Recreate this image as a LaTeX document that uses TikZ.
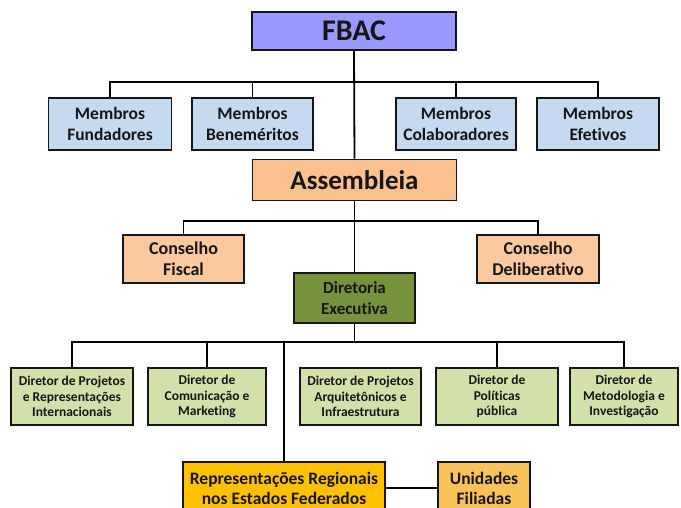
\documentclass[tikz,border=0pt]{standalone}
\usepackage{fontspec}
\setmainfont[Ligatures=NoCommon]{Carlito}
\definecolor{fbacc}{HTML}{9999FF}
\definecolor{membc}{HTML}{C5D9F1}
\definecolor{assc}{HTML}{FAC090}
\definecolor{consc}{HTML}{FAC9A0}
\definecolor{direxc}{HTML}{76923C}
\definecolor{dirc}{HTML}{D2E1AA}
\definecolor{reprc}{HTML}{FFC000}
\definecolor{unidc}{HTML}{FAC35A}
\definecolor{inkc}{HTML}{161616}
\tikzset{
  box/.style={draw=inkc, line width=1.6pt, align=center, inner sep=1pt, text=inkc, font=\bfseries},
  big/.style={box, font=\bfseries\fontsize{27}{30}\selectfont},
  memb/.style={box, fill=membc, minimum height=52pt, font=\bfseries\fontsize{17.5}{20.5}\selectfont},
  cons/.style={box, fill=consc, minimum height=48pt, font=\bfseries\fontsize{18}{21}\selectfont},
  dirbox/.style={box, fill=dirc, minimum height=57pt, font=\bfseries\fontsize{13.5}{15.5}\selectfont},
  lower/.style={box, minimum height=52pt, font=\bfseries\fontsize{17.5}{20}\selectfont},
  link/.style={line width=1.8pt, draw=black}
}
\begin{document}
\begin{tikzpicture}[x=1pt, y=-1pt]
\useasboundingbox (0,0) rectangle (681,508);
\clip (0,0) rectangle (681,508);
\fill[white] (0,0) rectangle (681,508);

% nodes
\node[big, fill=fbacc, minimum width=204pt, minimum height=38pt, font=\bfseries\fontsize{30}{32}\selectfont] (fbac) at (354,31) {FBAC};
\node[memb, minimum width=123pt] (fund) at (110,124) {Membros\\Fundadores};
\node[memb, minimum width=121pt] (ben) at (252.5,124) {Membros\\Beneméritos};
\node[memb, minimum width=120pt] (col) at (456,124) {Membros\\Colaboradores};
\node[memb, minimum width=122pt] (efe) at (598,124) {Membros\\Efetivos};
\node[big, fill=assc, minimum width=204pt, minimum height=41pt] (ass) at (354.5,180) {Assembleia};
\node[cons, minimum width=121pt] (cf) at (183.5,259) {Conselho\\Fiscal};
\node[cons, minimum width=122pt] (cd) at (538,259) {Conselho\\Deliberativo};
\node[box, fill=direxc, minimum width=121pt, minimum height=50pt, font=\bfseries\fontsize{17}{21}\selectfont] (dex) at (354.5,298) {Diretoria\\Executiva};
\node[dirbox, minimum width=122pt] (d1) at (72,396.5) {Diretor de Projetos\\e Representações\\Internacionais};
\node[dirbox, minimum width=118pt] (d2) at (207,396.5) {Diretor de\\Comunicação e\\Marketing};
\node[dirbox, minimum width=121pt] (d3) at (360.5,396.5) {Diretor de Projetos\\Arquitetônicos e\\Infraestrutura};
\node[dirbox, minimum width=122pt] (d4) at (497,396.5) {Diretor de\\Políticas\\pública};
\node[dirbox, minimum width=108pt] (d5) at (624,396.5) {Diretor de\\Metodologia e\\Investigação};
\node[lower, fill=reprc, minimum width=202pt] (repr) at (284,488) {Representações Regionais\\nos Estados Federados};
\node[lower, fill=unidc, minimum width=92pt] (unid) at (484,488) {Unidades\\Filiadas};

% bus points
\coordinate (mbus) at (354,82);
\coordinate (cbus) at (354.5,221);
\coordinate (dbus) at (354.5,342);

% connectors
\draw[link] (fbac.south) -- (ass.north);
\draw[link] (fund.north) |- (mbus) -| (efe.north);
\draw[link] (ben.north) |- (mbus);
\draw[link] (col.north) |- (mbus);
\draw[link] (ass.south) -- (dex.north);
\draw[link] (cf.north) |- (cbus) -| (cd.north);
\draw[link] (dex.south) -- (dbus);
\draw[link] (d1.north) |- (dbus) -| (d5.north);
\draw[link] (d2.north) |- (dbus);
\draw[link] (d4.north) |- (dbus);
\draw[link] (repr.north) |- (dbus);
\draw[link] (repr.east) -- (unid.west);
\end{tikzpicture}
\end{document}
